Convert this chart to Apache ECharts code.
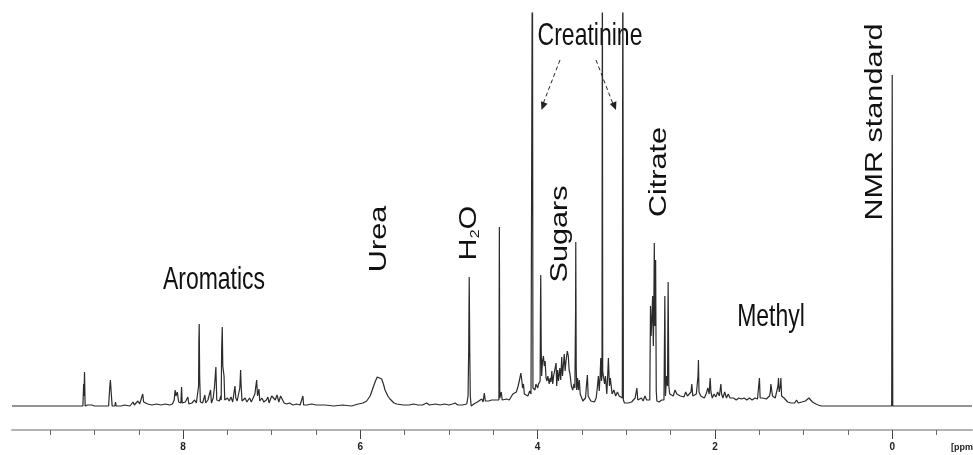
<!DOCTYPE html>
<html>
<head>
<meta charset="utf-8">
<script src="https://cdn.jsdelivr.net/npm/echarts@6.0.0/dist/echarts.min.js"></script>
<style>
  html, body { margin: 0; padding: 0; background: #fff; }
  #spectrum { width: 973px; height: 455px; }
</style>
</head>
<body>
<div id="spectrum"></div>
<script>
// [chemical shift (ppm), intensity], high ppm first
var aromaticRegion = [
  [9.93, 0], [9.30, 0], [9.26, 0], [9.255, 2], [9.25, 0],
  [9.13, 0], [9.122, 22], [9.118, 10], [9.112, 34], [9.105, 0],
  [9.08, 1], [9.06, 0], [9.03, 1], [9.0, 0],
  [8.84, 0], [8.832, 12], [8.826, 20], [8.82, 26], [8.812, 28], [8.805, 6], [8.80, 0],
  [8.77, 0], [8.762, 4], [8.755, 0], [8.70, 0], [8.66, 1], [8.60, 0],
  [8.58, 1], [8.565, 4], [8.55, 1], [8.51, 5], [8.49, 2], [8.455, 12], [8.445, 4], [8.40, 2], [8.35, 1],
  [8.30, 2], [8.25, 1], [8.20, 2], [8.15, 1], [8.12, 2],
  [8.10, 6], [8.09, 16], [8.08, 10], [8.065, 14], [8.05, 4],
  [8.025, 3], [8.017, 19], [8.01, 3], [7.99, 2], [7.975, 4], [7.946, 9], [7.935, 2],
  [7.90, 3], [7.87, 6], [7.85, 3],
  [7.83, 4], [7.825, 20], [7.822, 64], [7.818, 82], [7.813, 30], [7.805, 4],
  [7.78, 3], [7.754, 11], [7.745, 3], [7.72, 6], [7.69, 16], [7.68, 3], [7.66, 8], [7.645, 20], [7.63, 39], [7.62, 6],
  [7.59, 5], [7.575, 10], [7.57, 6], [7.565, 56], [7.558, 79], [7.552, 40], [7.545, 35], [7.538, 30], [7.53, 6],
  [7.50, 8], [7.48, 5], [7.46, 9], [7.44, 4], [7.415, 20], [7.405, 8], [7.39, 5], [7.36, 18], [7.351, 36], [7.345, 20], [7.335, 5],
  [7.30, 8], [7.28, 4], [7.25, 8], [7.23, 4], [7.19, 12], [7.17, 26], [7.16, 10], [7.144, 17], [7.135, 5],
  [7.11, 8], [7.09, 4], [7.06, 6], [7.043, 9], [7.03, 3], [7.00, 10], [6.98, 12], [6.96, 6], [6.94, 11], [6.92, 4],
  [6.90, 10], [6.88, 9], [6.86, 3], [6.83, 2], [6.80, 3], [6.76, 1], [6.72, 2], [6.68, 1],
  [6.66, 1], [6.648, 10], [6.64, 1], [6.60, 1], [6.55, 2], [6.50, 1], [6.479, 3], [6.46, 1], [6.40, 1],
  [6.30, 0], [6.20, 1], [6.10, 0]
];

var ureaRegion = [
  [6.024, 2], [5.97, 3], [5.929, 5], [5.89, 10], [5.854, 19], [5.83, 25], [5.809, 29], [5.79, 31],
  [5.76, 27], [5.74, 22], [5.722, 16], [5.69, 10], [5.666, 7], [5.62, 3], [5.59, 2], [5.516, 1],
  [5.45, 1], [5.40, 2], [5.35, 1], [5.30, 1], [5.252, 3], [5.22, 1], [5.15, 2], [5.10, 1],
  [5.05, 2], [5.00, 1], [4.96, 2], [4.932, 3], [4.90, 1], [4.85, 1]
];

var waterRegion = [
  [4.80, 2], [4.785, 10], [4.778, 56], [4.772, 129], [4.766, 56], [4.76, 10], [4.75, 0],
  [4.72, 2], [4.70, 3], [4.68, 4], [4.66, 3], [4.631, 7], [4.615, 4], [4.602, 13], [4.59, 5],
  [4.57, 6], [4.55, 5], [4.52, 6], [4.50, 4], [4.47, 6], [4.45, 5],
  [4.437, 6], [4.432, 179], [4.427, 8], [4.41, 14], [4.40, 6], [4.38, 6], [4.35, 7], [4.32, 6],
  [4.30, 8], [4.28, 12], [4.26, 10]
];

var sugarRegion = [
  [4.24, 14], [4.22, 20], [4.20, 28], [4.19, 33], [4.179, 26], [4.17, 18], [4.16, 22], [4.15, 12],
  [4.13, 14], [4.11, 10], [4.09, 15], [4.075, 12],
  [4.065, 14], [4.059, 500], [4.053, 18],
  [4.04, 20], [4.03, 16], [4.02, 22], [4.01, 23], [4.00, 18], [3.99, 22], [3.98, 20],
  [3.972, 25], [3.968, 103], [3.965, 131], [3.96, 60], [3.955, 30],
  [3.945, 45], [3.935, 50], [3.925, 40], [3.916, 45], [3.905, 28], [3.895, 25], [3.885, 30],
  [3.87, 22], [3.86, 28], [3.85, 24], [3.84, 35], [3.83, 22], [3.82, 30], [3.80, 28], [3.792, 43],
  [3.785, 20], [3.775, 36], [3.765, 25], [3.75, 38], [3.74, 26], [3.728, 49], [3.72, 30], [3.71, 40],
  [3.70, 52], [3.69, 35], [3.68, 45], [3.665, 55], [3.654, 50], [3.645, 36], [3.635, 32], [3.62, 20],
  [3.605, 16], [3.59, 22], [3.58, 18],
  [3.575, 20], [3.572, 96], [3.57, 164], [3.565, 40], [3.56, 16],
  [3.55, 28], [3.54, 16], [3.53, 26], [3.52, 12], [3.50, 10], [3.49, 5], [3.48, 3], [3.46, 8],
  [3.45, 20], [3.439, 31], [3.43, 10], [3.42, 12], [3.40, 5], [3.38, 3], [3.36, 4], [3.34, 8],
  [3.325, 20], [3.315, 30], [3.305, 15], [3.295, 30], [3.288, 48], [3.28, 25],
  [3.274, 30], [3.27, 500], [3.266, 35],
  [3.255, 28], [3.245, 22], [3.235, 30], [3.22, 12], [3.21, 30], [3.202, 48], [3.19, 20], [3.18, 28],
  [3.16, 12], [3.14, 16], [3.12, 10], [3.10, 14], [3.08, 10], [3.06, 8],
  [3.045, 8], [3.039, 500], [3.033, 6]
];

var citrateRegion = [
  [3.02, 3], [3.00, 1], [2.98, 3], [2.96, 2], [2.94, 4], [2.92, 2], [2.90, 8], [2.881, 18], [2.87, 6],
  [2.85, 4], [2.83, 8], [2.81, 5], [2.79, 10], [2.77, 6], [2.75, 4],
  [2.735, 6], [2.727, 100], [2.72, 70], [2.712, 85], [2.703, 110], [2.695, 60], [2.69, 90],
  [2.684, 163], [2.678, 80], [2.669, 146], [2.662, 15], [2.655, 5], [2.63, 4], [2.60, 6], [2.58, 4],
  [2.575, 6], [2.565, 110], [2.558, 10], [2.545, 30], [2.535, 20], [2.528, 124], [2.52, 20], [2.51, 12]
];

var methylRegion = [
  [2.49, 14], [2.47, 10], [2.45, 16], [2.43, 12], [2.41, 14], [2.39, 10], [2.37, 12], [2.35, 9],
  [2.33, 14], [2.31, 10], [2.29, 12], [2.27, 14], [2.261, 22], [2.25, 10], [2.23, 8], [2.21, 12],
  [2.20, 10], [2.191, 30], [2.186, 46], [2.18, 14], [2.16, 10], [2.14, 12], [2.12, 8], [2.10, 12],
  [2.08, 18], [2.065, 12], [2.054, 28], [2.045, 14], [2.03, 8], [2.01, 12], [1.99, 9], [1.97, 14],
  [1.95, 10], [1.933, 22], [1.925, 12], [1.91, 8], [1.89, 14], [1.87, 8], [1.85, 12], [1.83, 8],
  [1.81, 7], [1.79, 8], [1.76, 6], [1.73, 8], [1.70, 7], [1.67, 8], [1.64, 6], [1.61, 8], [1.58, 6],
  [1.55, 8], [1.52, 7],
  [1.505, 8], [1.498, 28], [1.49, 8], [1.48, 6], [1.46, 8], [1.44, 6], [1.42, 7], [1.40, 6], [1.385, 10],
  [1.375, 14], [1.369, 22], [1.36, 16], [1.35, 10], [1.34, 12], [1.32, 8], [1.30, 10], [1.289, 20],
  [1.283, 28], [1.275, 14], [1.262, 20], [1.256, 28], [1.248, 10], [1.24, 8], [1.22, 8], [1.20, 6],
  [1.18, 4], [1.16, 6], [1.14, 3], [1.12, 5], [1.10, 3], [1.08, 6], [1.06, 3], [1.04, 5], [1.02, 4],
  [1.00, 6], [0.98, 5], [0.96, 6], [0.94, 8], [0.92, 6], [0.90, 4], [0.88, 3], [0.86, 2], [0.835, 1], [0.80, 0]
];

var standardRegion = [
  [0.75, 0], [0.58, 0], [0.567, 2], [0.555, 0], [0.40, 0], [0.18, 0], [0.173, 1], [0.165, 0],
  [0.125, 0], [0.116, 2], [0.108, 0],
  [0.006, 0], [0.0, 331], [-0.006, 0], [-0.012, 2], [-0.02, 0],
  [-0.11, 0], [-0.12, 2], [-0.13, 0], [-0.9, 0]
];

var ppmTicks = [-0.5, 0, 0.5, 1, 1.5, 2, 2.5, 3, 3.5, 4, 4.5, 5, 5.5, 6, 6.5, 7, 7.5, 8, 8.5, 9, 9.5];
var ppmLabels = [0, 2, 4, 6, 8];

var spectrum = [].concat(aromaticRegion, ureaRegion, waterRegion, sugarRegion,
  citrateRegion, methylRegion, standardRegion);

var myChart = echarts.init(document.getElementById("spectrum"));

var font = '"Liberation Sans", Arial, sans-serif';
function label(text, x, y, rotated) {
  return {
    type: "text",
    x: x,
    y: y,
    rotation: rotated ? Math.PI / 2 : 0,
    scaleX: rotated ? 1.33 : 1,
    scaleY: rotated ? 1 : 1.33,
    style: {
      text: text,
      fontSize: 23,
      fontFamily: font,
      fill: "#111",
      align: "center",
      verticalAlign: "middle"
    }
  };
}
function arrowHead(points) {
  return { type: "polygon", shape: { points: points }, style: { fill: "#222" } };
}

var option = {
  animation: false,
  backgroundColor: "#fff",
  grid: { left: 12, right: 1, top: 13, height: 403 },
  xAxis: [
    {
      type: "value",
      inverse: true,
      min: -0.9,
      max: 9.93,
      position: "bottom",
      offset: 14,
      axisLine: { onZero: false, lineStyle: { color: "#b4b4b4", width: 2 } },
      axisTick: { customValues: ppmTicks, length: 5, lineStyle: { color: "#666" } },
      axisLabel: { show: false },
      splitLine: { show: false }
    },
    {
      type: "value",
      inverse: true,
      min: -0.9,
      max: 9.93,
      position: "bottom",
      offset: 14,
      axisLine: { show: true, onZero: false, lineStyle: { opacity: 0 } },
      axisTick: { customValues: ppmLabels, length: 9, lineStyle: { color: "#444" } },
      axisLabel: {
        customValues: ppmLabels,
        margin: 12,
        fontSize: 10,
        fontWeight: "bold",
        fontFamily: font,
        color: "#222"
      },
      splitLine: { show: false }
    }
  ],
  yAxis: { type: "value", min: -10, max: 393, show: false },
  series: [
    {
      type: "line",
      xAxisIndex: 0,
      data: spectrum,
      showSymbol: false,
      clip: true,
      lineStyle: { color: "#2b2b2b", width: 1.2 }
    }
  ],
  graphic: [
    label("Aromatics", 214, 281, false),
    label("Methyl", 771, 318, false),
    label("Creatinine", 590, 37, false),
    label("Urea", 380, 239, true),
    label("Sugars", 561, 234, true),
    label("Citrate", 660, 172, true),
    label("NMR standard", 876, 122, true),
    {
      type: "text",
      x: 470,
      y: 233,
      rotation: Math.PI / 2,
      scaleX: 1.33,
      style: {
        text: "{a|H}{b|2}{a|O}",
        align: "center",
        verticalAlign: "middle",
        rich: {
          a: { fontSize: 23, fontFamily: font, fill: "#111" },
          b: { fontSize: 12, fontFamily: font, fill: "#111", verticalAlign: "bottom" }
        }
      }
    },
    // creatinine arrows
    { type: "line", shape: { x1: 560, y1: 60, x2: 543, y2: 104 }, style: { stroke: "#222", lineWidth: 1, lineDash: [4, 3] } },
    arrowHead([[541.5, 110], [547.6, 103.7], [541, 101.3]]),
    { type: "line", shape: { x1: 596, y1: 60, x2: 613, y2: 104 }, style: { stroke: "#222", lineWidth: 1, lineDash: [4, 3] } },
    arrowHead([[616, 110], [616.4, 101.3], [609.8, 103.9]]),
    {
      type: "text",
      x: 951,
      y: 448,
      style: { text: "[ppm]", fontSize: 9, fontWeight: "bold", fontFamily: font, fill: "#222", align: "left", verticalAlign: "middle" }
    }
  ]
};

myChart.setOption(option);
window.addEventListener("resize", function () {
  myChart.resize();
});
</script>
</body>
</html>
